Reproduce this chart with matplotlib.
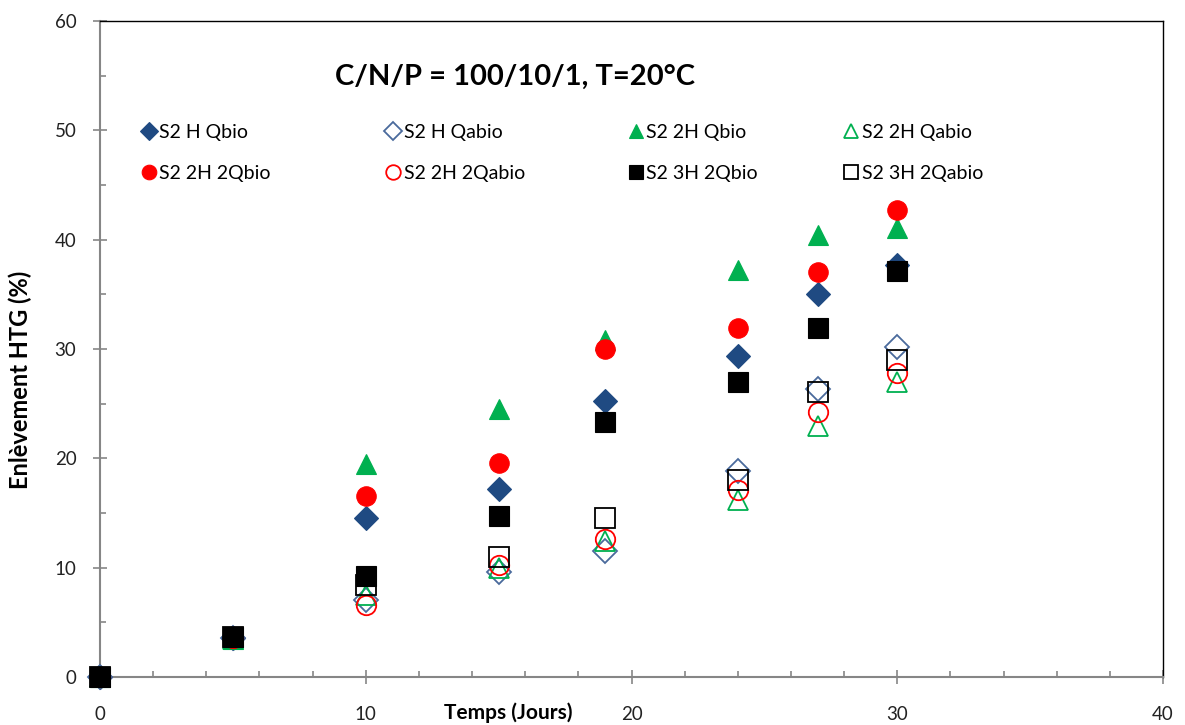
import numpy as np
import matplotlib
matplotlib.use('Agg')
import matplotlib.pyplot as plt
from matplotlib.ticker import MultipleLocator
from matplotlib.legend import Legend

plt.rcParams['font.family'] = ['Lato', 'DejaVu Sans']

# temps (jours)
days = [0, 5, 10, 15, 19, 24, 27, 30]

# enlevement HTG (%) per series
h_qbio = [0, 3.6, 14.5, 17.2, 25.2, 29.4, 35.0, 37.7]
h_qabio = [0, 3.6, 7.0, 9.6, 11.5, 18.8, 26.3, 30.2]
h2_qbio = [0, 3.5, 19.5, 24.5, 30.8, 37.2, 40.4, 41.1]
h2_qabio = [0, 3.5, 7.5, 10.0, 12.4, 16.2, 23.0, 27.0]
h2_2qbio = [0, 3.6, 16.6, 19.6, 30.0, 31.9, 37.0, 42.7]
h2_2qabio = [0, 3.6, 6.6, 10.2, 12.6, 17.1, 24.2, 27.8]
h3_2qbio = [0, 3.7, 9.2, 14.7, 23.3, 27.0, 31.9, 37.1]
h3_2qabio = [0, 3.7, 8.4, 11.0, 14.5, 18.0, 26.1, 29.0]

labels = ['S2 H Qbio', 'S2 H Qabio', 'S2 2H Qbio', 'S2 2H Qabio',
          'S2 2H 2Qbio', 'S2 2H 2Qabio', 'S2 3H 2Qbio', 'S2 3H 2Qabio']

blue = '#1F4A82'
green = '#00B050'
red = '#FF0000'

fig = plt.figure(figsize=(11.85, 7.25), dpi=100)
ax = fig.add_axes([100/1185, (725-677)/725, 1063/1185, 656/725])

# (values, marker, colour, filled, size)
series = [
  (h_qbio, 'D', blue, True, 12),
  (h_qabio, 'D', '#4A6A9C', False, 12),
  (h2_qbio, '^', green, True, 14),
  (h2_qabio, '^', green, False, 14),
  (h2_2qbio, 'o', red, True, 14),
  (h2_2qabio, 'o', red, False, 14),
  (h3_2qbio, 's', 'black', True, 14),
  (h3_2qabio, 's', 'black', False, 14),
]

handles = []
for (vals, m, c, filled, ms), lab in zip(series, labels):
  h, = ax.plot(days, vals, linestyle='none', marker=m, markersize=ms,
               markerfacecolor=c if filled else 'none', markeredgecolor=c,
               markeredgewidth=0.8 if filled else 1.3, label=lab, zorder=3,
               clip_on=False)
  handles.append(h)

ax.set_xlim(0, 40)
ax.set_ylim(0, 60)
ax.xaxis.set_major_locator(MultipleLocator(10))
ax.xaxis.set_minor_locator(MultipleLocator(2))
ax.yaxis.set_major_locator(MultipleLocator(10))
ax.yaxis.set_minor_locator(MultipleLocator(5))

ax.tick_params(which='major', direction='inout', length=10, width=1.2,
               color='#868686', labelsize=13.5, labelcolor='#222222')
ax.tick_params(which='minor', direction='in', length=4.5, width=1.2, color='#868686')
ax.tick_params(axis='x', which='major', pad=16)
ax.tick_params(axis='y', which='major', pad=12)

for s in ['left', 'bottom']:
  ax.spines[s].set_color('#868686')
  ax.spines[s].set_linewidth(1.5)
for s in ['top', 'right']:
  ax.spines[s].set_color('black')
  ax.spines[s].set_linewidth(1.0)

ax.set_xlabel('Temps (Jours)', fontsize=15, fontweight='bold', va='center')
ax.xaxis.set_label_coords(0.384, -0.055)
ax.set_ylabel('Enlèvement HTG (%)', fontsize=17, fontweight='bold')
ax.yaxis.set_label_coords(-0.064, 0.453)

ax.text(0.221, 0.915, 'C/N/P = 100/10/1, T=20°C', transform=ax.transAxes,
        fontsize=21, fontweight='bold', ha='left', va='center')

# legend: 4 columns of 2 entries each
col_x = [0.033, 0.263, 0.491, 0.694]
for i, x in enumerate(col_x):
  leg = Legend(ax, [handles[i], handles[i + 4]], [labels[i], labels[i + 4]],
               loc='upper left', bbox_to_anchor=(x, 0.855), frameon=False,
               fontsize=14, handlelength=0.6, handletextpad=0.25,
               labelspacing=1.25, markerscale=0.75, borderaxespad=0)
  ax.add_artist(leg)

fig.savefig('out.png', dpi=100)
